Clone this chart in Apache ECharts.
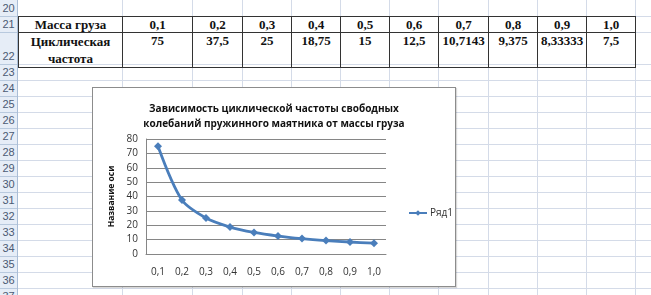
<!DOCTYPE html>
<html><head><meta charset="utf-8">
<script src="https://cdn.jsdelivr.net/npm/echarts@6/dist/echarts.min.js"></script>
<style>
html,body{margin:0;padding:0;background:#fff;width:651px;height:295px;overflow:hidden;position:relative;}
.vl{position:absolute;top:0;width:1px;height:295px;background:#d4dbe8;}
.hl{position:absolute;left:0;height:1px;width:651px;background:#d4dbe8;}
#rh{position:absolute;left:0;top:0;width:17px;height:295px;background:#e6edf7;border-right:1px solid #a9bdd6;}
.rn{position:absolute;left:0;width:17px;text-align:center;font:11px "Liberation Sans",Arial,sans-serif;color:#4b5a73;}
#tbl{position:absolute;left:18px;top:16px;border-collapse:collapse;font:bold 13px "Liberation Serif","Times New Roman",serif;color:#111;}
#tbl td{border:1px solid #333;padding:0;text-align:center;vertical-align:top;line-height:15px;}
#chartBox{position:absolute;left:92px;top:87px;width:362px;height:198px;background:#fff;border:1px solid #8c8c8c;box-shadow:1px 1px 1px rgba(0,0,0,0.15);}
#chart{width:362px;height:198px;}
</style></head>
<body>
<div id="grid"></div>
<div id="rh"></div>
<table id="tbl"></table>
<div id="chartBox"><div id="chart"></div></div>
<script>
// ---- data ----
var rowHeaderLabel = 'Масса груза';
var valueHeaderLabel = 'Циклическая частота';
var masses = ['0,1','0,2','0,3','0,4','0,5','0,6','0,7','0,8','0,9','1,0'];
var freqText = ['75','37,5','25','18,75','15','12,5','10,7143','9,375','8,33333','7,5'];
var freq = [75, 37.5, 25, 18.75, 15, 12.5, 10.7143, 9.375, 8.33333, 7.5];
var rowNumbers = [20,21,22,23,24,25,26,27,28,29,30,31,32,33,34,35,36,37];
var chartTitle = 'Зависимость циклической частоты свободных\nколебаний пружинного маятника от массы груза';
var yAxisName = 'Название оси';
var seriesName = 'Ряд1';

// ---- spreadsheet background ----
var colLines = [122,192,242,291,340,389,438,488,537,586,635];
var colW = [104,70,50,49,49,49,49,50,49,49,49];
var rowTops = [0,16,32,64,80,96,112,128,144,160,176,192,208,224,240,256,272,288];
var grid = document.getElementById('grid');
colLines.forEach(function(x){var d=document.createElement('div');d.className='vl';d.style.left=x+'px';grid.appendChild(d);});
rowTops.slice(1).forEach(function(y){var d=document.createElement('div');d.className='hl';d.style.top=y+'px';grid.appendChild(d);});
var rh = document.getElementById('rh');
rowNumbers.forEach(function(n,i){
  var top=rowTops[i], h=(i+1<rowTops.length?rowTops[i+1]:304)-top;
  var d=document.createElement('div');d.className='rn';d.textContent=n;
  d.style.top=(top+h-15)+'px';d.style.height='15px';d.style.lineHeight='15px';
  rh.appendChild(d);
  var l=document.createElement('div');l.style.cssText='position:absolute;left:0;width:17px;height:1px;background:#b8c9de;top:'+(top+h)+'px';rh.appendChild(l);
});
// ---- table ----
var tbl=document.getElementById('tbl');
var cg=document.createElement('colgroup');
colW.forEach(function(w){var c=document.createElement('col');c.style.width=w+'px';cg.appendChild(c);});
tbl.appendChild(cg);
var r1=tbl.insertRow(), r2=tbl.insertRow();
r1.style.height='16px'; r2.style.height='32px';
var c=r1.insertCell(); c.textContent=rowHeaderLabel;
masses.forEach(function(m){r1.insertCell().textContent=m;});
c=r2.insertCell(); c.innerHTML=valueHeaderLabel.replace(' ','<br>'); c.style.lineHeight='17px';
freqText.forEach(function(v){r2.insertCell().textContent=v;});

// ---- chart ----
var ch = echarts.init(document.getElementById('chart'), null, {renderer:'canvas'});
var fontFam = '"Open Sans","Noto Sans",sans-serif';
ch.setOption({
  animation:false,
  backgroundColor:'#fff',
  title:{text:chartTitle,left:'center',top:9,
    textStyle:{fontFamily:fontFam,fontSize:10,fontWeight:'bold',color:'#111',lineHeight:15}},
  legend:{data:[seriesName],left:310,top:115,itemWidth:18,itemHeight:7,itemGap:4,
    textStyle:{fontFamily:fontFam,fontSize:10,color:'#333',padding:[0,0,0,-2]}},
  grid:{left:53,right:69,top:51,bottom:32},
  xAxis:{type:'category',data:masses,boundaryGap:true,
    axisLine:{show:true,lineStyle:{color:'#868686'}},axisTick:{show:false},
    axisLabel:{margin:13,fontFamily:fontFam,fontSize:10,color:'#333'}},
  yAxis:{type:'value',min:0,max:80,interval:10,name:yAxisName,nameLocation:'middle',nameGap:25,
    nameTextStyle:{fontFamily:fontFam,fontSize:8.5,fontWeight:'bold',color:'#111'},
    axisLine:{show:true,lineStyle:{color:'#868686'}},axisTick:{show:false},
    splitLine:{lineStyle:{color:'#868686',width:1}},
    axisLabel:{margin:8,fontFamily:fontFam,fontSize:10,color:'#333'}},
  series:[{name:seriesName,type:'line',data:freq,smooth:0.3,
    symbol:'diamond',symbolSize:8,
    lineStyle:{color:'#4a7ebb',width:2.8},itemStyle:{color:'#4a7ebb'}}]
});
</script>
</body></html>
